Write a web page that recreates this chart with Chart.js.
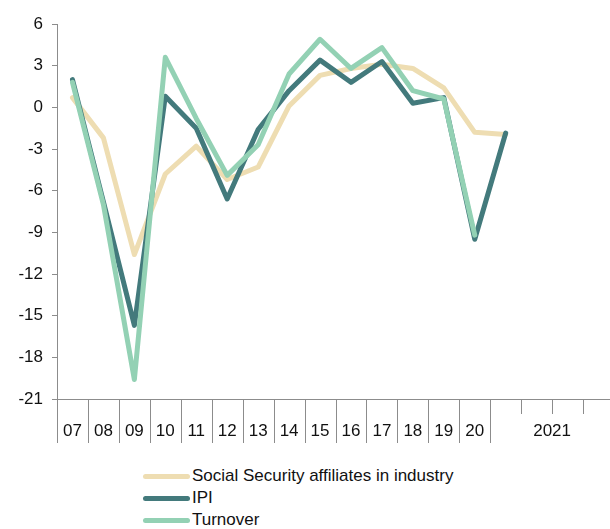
<!DOCTYPE html>
<html>
<head>
<meta charset="utf-8">
<script src="https://cdn.jsdelivr.net/npm/chart.js@4.4.1/dist/chart.umd.min.js"></script>
<style>
    html, body { margin: 0; padding: 0; overflow: hidden; background: #fff; }
    #wrap { position: relative; width: 614px; height: 455px; }
    #legend { position: absolute; left: 143px; top: 465px; font-family: 'Liberation Sans', Arial, sans-serif; font-size: 17px; color: #111; }
    .item { height: 22px; display: flex; align-items: center; white-space: nowrap; }
    .swatch { display: inline-block; width: 47px; height: 5px; border-radius: 3px; margin-right: 2px; }
</style>
</head>
<body>
<div id="wrap"><canvas id="chart"></canvas></div>
<div id="legend"></div>
<script>
// Categorías: años 2007-2020 y trimestres de 2021
const xLabels = ['07', '08', '09', '10', '11', '12', '13', '14', '15', '16', '17', '18', '19', '20', '', '', '', ''];
const groupLabel = '2021';
const groupStart = 14;
const groupEnd = 17;

const yTicks = [6, 3, 0, -3, -6, -9, -12, -15, -18, -21];

const seriesNames = ['Social Security affiliates in industry', 'IPI', 'Turnover'];
const seriesColors = ['#EEDDB2', '#437A7C', '#93D1B4'];

const socialSecurity = [0.7, -2.2, -10.6, -4.8, -2.8, -5.2, -4.3, 0.1, 2.3, 2.8, 3.1, 2.8, 1.4, -1.8, -1.95, null, null, null];
const ipi = [2.0, -6.8, -15.7, 0.8, -1.5, -6.6, -1.6, 1.2, 3.4, 1.8, 3.3, 0.3, 0.7, -9.5, -1.85, null, null, null];
const turnover = [1.8, -7.0, -19.6, 3.6, -0.8, -4.9, -2.7, 2.4, 4.9, 2.8, 4.3, 1.2, 0.6, -9.2, null, null, null, null];

const FONT = "'Liberation Sans', Arial, sans-serif";
const AXIS_COLOR = '#8c8c8c';

document.addEventListener('DOMContentLoaded', function() {
    /**
     * Marcas del eje X (largas entre años, cortas dentro de 2021) y etiqueta del grupo
     */
    const axisExtras = {
        id: 'axisExtras',
        afterDraw(chart) {
            const x = chart.scales.x;
            const ctx = chart.ctx;
            const bottom = chart.chartArea.bottom;
            const step = x.getPixelForValue(1) - x.getPixelForValue(0);
            ctx.save();
            ctx.strokeStyle = AXIS_COLOR;
            ctx.lineWidth = 1;
            for (let i = 0; i <= xLabels.length; i++) {
                const px = Math.round(x.getPixelForValue(i) - step / 2) + 0.5;
                const inner = i > groupStart && i <= groupEnd;
                ctx.beginPath();
                ctx.moveTo(px, bottom);
                ctx.lineTo(px, bottom + (inner ? 15 : 44));
                ctx.stroke();
            }
            // misma altura que las etiquetas de la escala
            const item = x.getLabelItems()[0];
            const cx = (x.getPixelForValue(groupStart) + x.getPixelForValue(groupEnd)) / 2;
            ctx.fillStyle = '#111';
            ctx.font = '17px ' + FONT;
            ctx.textAlign = 'center';
            ctx.textBaseline = item.options.textBaseline;
            ctx.fillText(groupLabel, cx, item.options.translation[1] + item.textOffset);
            ctx.restore();
        }
    };

    const allSeries = [socialSecurity, ipi, turnover];
    const datasets = allSeries.map((data, i) => ({
        label: seriesNames[i],
        data: data,
        borderColor: seriesColors[i],
        backgroundColor: seriesColors[i],
        borderWidth: 5,
        pointRadius: 0,
        tension: 0,
        borderCapStyle: 'round',
        borderJoinStyle: 'round',
        order: allSeries.length - i
    }));

    new Chart(document.getElementById('chart'), {
        type: 'line',
        data: { labels: xLabels, datasets: datasets },
        options: {
            responsive: true,
            maintainAspectRatio: false,
            animation: false,
            layout: { padding: { top: 24, left: 0, right: 0, bottom: 0 } },
            plugins: {
                legend: { display: false },
                tooltip: { enabled: false }
            },
            scales: {
                x: {
                    offset: true,
                    grid: { display: false },
                    border: { display: true, color: AXIS_COLOR, width: 1 },
                    ticks: {
                        autoSkip: false,
                        maxRotation: 0,
                        padding: 14,
                        color: '#111',
                        font: { family: FONT, size: 17 }
                    },
                    afterFit: s => { s.height = 56; }
                },
                y: {
                    min: yTicks[yTicks.length - 1],
                    max: yTicks[0],
                    afterBuildTicks: s => { s.ticks = yTicks.map(v => ({ value: v })); },
                    grid: { drawOnChartArea: false, drawTicks: true, tickLength: 5, color: AXIS_COLOR },
                    border: { display: true, color: AXIS_COLOR, width: 1 },
                    ticks: {
                        padding: 9,
                        color: '#111',
                        font: { family: FONT, size: 17 }
                    },
                    afterFit: s => { s.width = 57; }
                }
            }
        },
        plugins: [axisExtras]
    });

    // Leyenda vertical en HTML
    const legend = document.getElementById('legend');
    seriesNames.forEach((name, i) => {
        const row = document.createElement('div');
        row.className = 'item';
        row.innerHTML = `<span class="swatch" style="background:${seriesColors[i]}"></span><span>${name}</span>`;
        legend.appendChild(row);
    });
});
</script>
</body>
</html>
